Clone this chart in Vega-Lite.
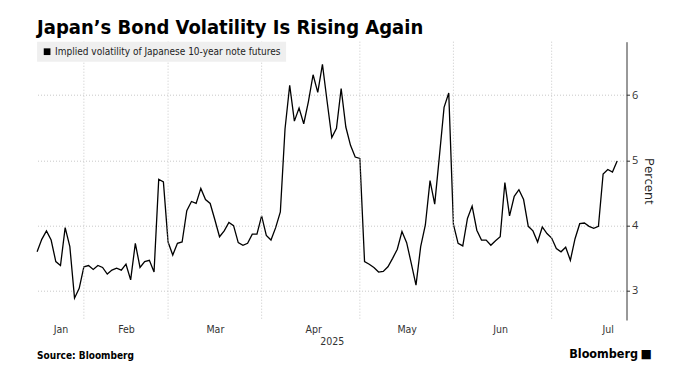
{
  "$schema": "https://vega.github.io/schema/vega-lite/v6.json",
  "width": 589.4,
  "height": 278.3,
  "autosize": {"type": "none"},
  "padding": {"left": 37.1, "top": 41.7, "right": 61.5, "bottom": 68},
  "background": "white",
  "title": {
    "text": "Japan’s Bond Volatility Is Rising Again",
    "anchor": "start",
    "frame": "group",
    "font": "DejaVu Sans Condensed",
    "fontSize": 20,
    "fontWeight": "bold",
    "color": "#000000",
    "baseline": "alphabetic",
    "offset": 9,
    "dy": 22
  },
  "config": {
    "view": {"stroke": null},
    "font": "Liberation Sans"
  },
  "datasets": {
    "vol": [
      {"date": "2025-01-20", "v": 3.60}, {"date": "2025-01-21", "v": 3.79}, {"date": "2025-01-22", "v": 3.92}, {"date": "2025-01-23", "v": 3.78}, {"date": "2025-01-24", "v": 3.45},
      {"date": "2025-01-27", "v": 3.39}, {"date": "2025-01-28", "v": 3.97}, {"date": "2025-01-29", "v": 3.68}, {"date": "2025-01-30", "v": 2.89}, {"date": "2025-01-31", "v": 3.04},
      {"date": "2025-02-03", "v": 3.37}, {"date": "2025-02-04", "v": 3.39}, {"date": "2025-02-05", "v": 3.33}, {"date": "2025-02-06", "v": 3.39}, {"date": "2025-02-07", "v": 3.36},
      {"date": "2025-02-10", "v": 3.26}, {"date": "2025-02-12", "v": 3.32}, {"date": "2025-02-13", "v": 3.35}, {"date": "2025-02-14", "v": 3.32},
      {"date": "2025-02-17", "v": 3.41}, {"date": "2025-02-18", "v": 3.17}, {"date": "2025-02-19", "v": 3.73}, {"date": "2025-02-20", "v": 3.36}, {"date": "2025-02-21", "v": 3.45},
      {"date": "2025-02-25", "v": 3.47}, {"date": "2025-02-26", "v": 3.29}, {"date": "2025-02-27", "v": 4.71}, {"date": "2025-02-28", "v": 4.67},
      {"date": "2025-03-03", "v": 3.75}, {"date": "2025-03-04", "v": 3.55}, {"date": "2025-03-05", "v": 3.73}, {"date": "2025-03-06", "v": 3.75}, {"date": "2025-03-07", "v": 4.23},
      {"date": "2025-03-10", "v": 4.37}, {"date": "2025-03-11", "v": 4.34}, {"date": "2025-03-12", "v": 4.57}, {"date": "2025-03-13", "v": 4.40}, {"date": "2025-03-14", "v": 4.34},
      {"date": "2025-03-17", "v": 4.09}, {"date": "2025-03-18", "v": 3.83}, {"date": "2025-03-19", "v": 3.92}, {"date": "2025-03-21", "v": 4.05},
      {"date": "2025-03-24", "v": 4.00}, {"date": "2025-03-25", "v": 3.74}, {"date": "2025-03-26", "v": 3.70}, {"date": "2025-03-27", "v": 3.73}, {"date": "2025-03-28", "v": 3.87},
      {"date": "2025-03-31", "v": 3.87},
      {"date": "2025-04-01", "v": 4.15}, {"date": "2025-04-02", "v": 3.85}, {"date": "2025-04-03", "v": 3.78}, {"date": "2025-04-04", "v": 3.97},
      {"date": "2025-04-07", "v": 4.21}, {"date": "2025-04-08", "v": 5.48}, {"date": "2025-04-09", "v": 6.15}, {"date": "2025-04-10", "v": 5.60}, {"date": "2025-04-11", "v": 5.80},
      {"date": "2025-04-14", "v": 5.56}, {"date": "2025-04-15", "v": 5.90}, {"date": "2025-04-16", "v": 6.31}, {"date": "2025-04-17", "v": 6.04}, {"date": "2025-04-18", "v": 6.47},
      {"date": "2025-04-21", "v": 5.90}, {"date": "2025-04-22", "v": 5.35}, {"date": "2025-04-23", "v": 5.49}, {"date": "2025-04-24", "v": 6.10}, {"date": "2025-04-25", "v": 5.51},
      {"date": "2025-04-28", "v": 5.23}, {"date": "2025-04-30", "v": 5.05},
      {"date": "2025-05-01", "v": 5.03}, {"date": "2025-05-02", "v": 3.45},
      {"date": "2025-05-07", "v": 3.41}, {"date": "2025-05-08", "v": 3.36}, {"date": "2025-05-09", "v": 3.29},
      {"date": "2025-05-12", "v": 3.30}, {"date": "2025-05-13", "v": 3.37}, {"date": "2025-05-14", "v": 3.50}, {"date": "2025-05-15", "v": 3.64}, {"date": "2025-05-16", "v": 3.91},
      {"date": "2025-05-19", "v": 3.74}, {"date": "2025-05-20", "v": 3.42}, {"date": "2025-05-21", "v": 3.09}, {"date": "2025-05-22", "v": 3.68}, {"date": "2025-05-23", "v": 4.01},
      {"date": "2025-05-26", "v": 4.69}, {"date": "2025-05-27", "v": 4.33}, {"date": "2025-05-28", "v": 5.06}, {"date": "2025-05-29", "v": 5.81}, {"date": "2025-05-30", "v": 6.03},
      {"date": "2025-06-02", "v": 4.02}, {"date": "2025-06-03", "v": 3.73}, {"date": "2025-06-04", "v": 3.69}, {"date": "2025-06-05", "v": 4.11}, {"date": "2025-06-06", "v": 4.30},
      {"date": "2025-06-09", "v": 3.93}, {"date": "2025-06-10", "v": 3.78}, {"date": "2025-06-11", "v": 3.78}, {"date": "2025-06-12", "v": 3.70}, {"date": "2025-06-13", "v": 3.77},
      {"date": "2025-06-16", "v": 3.83}, {"date": "2025-06-17", "v": 4.66}, {"date": "2025-06-18", "v": 4.15}, {"date": "2025-06-19", "v": 4.45}, {"date": "2025-06-20", "v": 4.55},
      {"date": "2025-06-23", "v": 4.40}, {"date": "2025-06-24", "v": 3.99}, {"date": "2025-06-25", "v": 3.92}, {"date": "2025-06-26", "v": 3.75}, {"date": "2025-06-27", "v": 3.98},
      {"date": "2025-06-30", "v": 3.88},
      {"date": "2025-07-01", "v": 3.81}, {"date": "2025-07-02", "v": 3.65}, {"date": "2025-07-03", "v": 3.60}, {"date": "2025-07-04", "v": 3.67},
      {"date": "2025-07-07", "v": 3.47}, {"date": "2025-07-08", "v": 3.80}, {"date": "2025-07-09", "v": 4.03}, {"date": "2025-07-10", "v": 4.04}, {"date": "2025-07-11", "v": 3.99},
      {"date": "2025-07-14", "v": 3.96}, {"date": "2025-07-15", "v": 3.99}, {"date": "2025-07-16", "v": 4.79}, {"date": "2025-07-17", "v": 4.86}, {"date": "2025-07-18", "v": 4.82},
      {"date": "2025-07-22", "v": 4.99}
    ],
    "monthStarts": [
      {"date": "2025-02-03"}, {"date": "2025-03-03"}, {"date": "2025-04-01"},
      {"date": "2025-05-01"}, {"date": "2025-06-02"}, {"date": "2025-07-01"}
    ]
  },
  "layer": [
    {
      "data": {"name": "vol"},
      "mark": {"type": "line", "color": "#000000", "strokeWidth": 1.3, "strokeJoin": "miter"},
      "encoding": {
        "x": {
          "field": "date",
          "type": "ordinal",
          "title": "2025",
          "scale": {"type": "point", "padding": 1.83, "align": 0},
          "axis": {
            "values": ["2025-01-27", "2025-02-17", "2025-03-17", "2025-04-16", "2025-05-19", "2025-06-16", "2025-07-17"],
            "labelExpr": "utcFormat(toDate(datum.value), '%b')",
            "labelAngle": 0,
            "ticks": false,
            "domain": false,
            "grid": false,
            "labelFont": "DejaVu Sans Condensed",
            "labelFontSize": 10.5,
            "labelColor": "#333333",
            "labelPadding": 4,
            "titleFont": "DejaVu Sans Condensed",
            "titleFontSize": 10.5,
            "titleFontWeight": "normal",
            "titleColor": "#333333",
            "titlePadding": 2
          }
        },
        "y": {
          "field": "v",
          "type": "quantitative",
          "title": "Percent",
          "scale": {"domain": [2.556, 6.816], "nice": false, "zero": false},
          "axis": {
            "orient": "right",
            "values": [3, 4, 5, 6],
            "grid": true,
            "gridDash": [1, 2],
            "gridColor": "#c8c8c8",
            "domainColor": "#333333",
            "tickColor": "#333333",
            "tickSize": 3,
            "labelFont": "Open Sans",
            "labelFontSize": 11,
            "labelColor": "#333333",
            "labelPadding": 2,
            "titleFont": "Open Sans",
            "titleFontSize": 13,
            "titleFontWeight": "normal",
            "titleColor": "#222222",
            "titlePadding": 4
          }
        },
        "color": {
          "datum": "Implied volatility of Japanese 10-year note futures",
          "scale": {"range": ["#000000"]},
          "legend": {
            "title": null,
            "orient": "none",
            "legendX": 0,
            "legendY": 0,
            "fillColor": "#efefef",
            "padding": 5,
            "symbolType": "square",
            "symbolSize": 45,
            "symbolFillColor": "#000000",
            "symbolStrokeColor": "#000000",
            "symbolStrokeWidth": 0,
            "labelFont": "DejaVu Sans Condensed",
            "labelFontSize": 10,
            "labelColor": "#222222",
            "labelLimit": 400,
            "labelOffset": 3
          }
        }
      }
    },
    {
      "data": {"name": "monthStarts"},
      "mark": {"type": "rule", "color": "#c8c8c8", "strokeDash": [1, 2], "strokeWidth": 1},
      "encoding": {
        "x": {"field": "date", "type": "ordinal", "title": "2025"}
      }
    },
    {
      "data": {"values": [{"t": "Source: Bloomberg"}]},
      "mark": {"type": "text", "x": 0, "y": 317.5, "align": "left", "baseline": "alphabetic", "font": "DejaVu Sans Condensed", "fontSize": 10, "fontWeight": "bold", "color": "#000000"},
      "encoding": {"text": {"field": "t"}}
    },
    {
      "data": {"values": [{"t": "Bloomberg"}]},
      "mark": {"type": "text", "x": 601, "y": 316.5, "align": "right", "baseline": "alphabetic", "font": "DejaVu Sans Condensed", "fontSize": 12.5, "fontWeight": "bold", "color": "#000000"},
      "encoding": {"text": {"field": "t"}}
    },
    {
      "data": {"values": [{"t": "■"}]},
      "mark": {"type": "text", "x": 609, "y": 316.5, "align": "center", "baseline": "alphabetic", "font": "DejaVu Sans", "fontSize": 12, "color": "#000000"},
      "encoding": {"text": {"field": "t"}}
    }
  ]
}
